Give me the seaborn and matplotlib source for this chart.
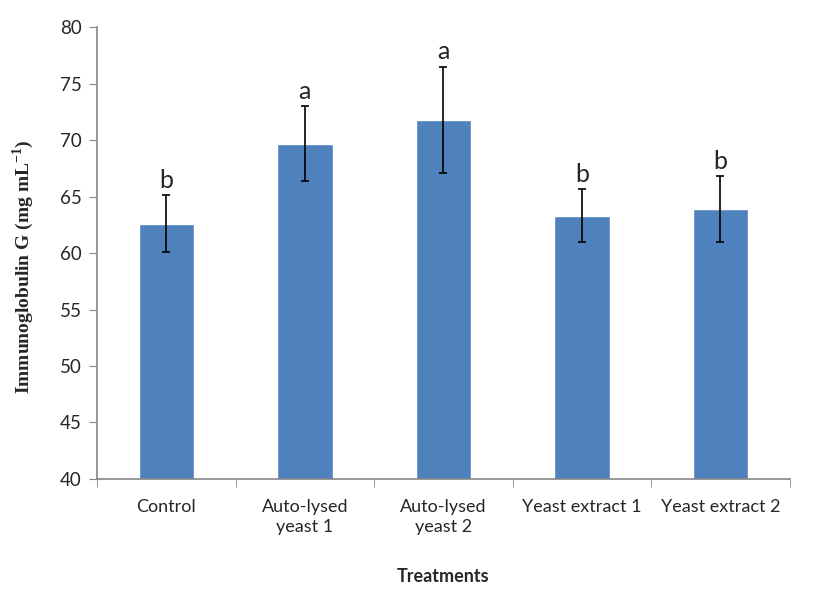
import matplotlib
matplotlib.use("Agg")
import matplotlib.pyplot as plt
import pandas as pd
import seaborn as sns
import numpy as np

# Values
treatments = ["Control", "Auto-lysed\nyeast 1", "Auto-lysed\nyeast 2", "Yeast extract 1", "Yeast extract 2"]
igg = [62.6, 69.7, 71.8, 63.3, 63.9]
igg_err = [2.5, 3.3, 4.7, 2.35, 2.9]
letters = ["b", "a", "a", "b", "b"]

df = pd.DataFrame({"Treatment": treatments, "IgG": igg, "err": igg_err})

sns.set_style("white")
plt.rcParams["font.family"] = ["Lato", "DejaVu Sans"]

fig = plt.figure(figsize=(8.15, 5.92), dpi=100)
ax = fig.add_axes([0.119, 0.191, 0.850, 0.763])

sns.barplot(data=df, x="Treatment", y="IgG", color="#4F81BD", saturation=1,
            width=0.4, errorbar=None, ax=ax)
ax.errorbar(np.arange(len(treatments)), df["IgG"], yerr=df["err"], fmt="none",
            ecolor="black", elinewidth=1.2, capsize=3, capthick=1.2)

for i, (v, e, lab) in enumerate(zip(igg, igg_err, letters)):
    ax.text(i, v + e + 0.3, lab, ha="center", va="bottom", fontsize=18)

ax.set_ylim(40, 80)
ax.set_xlim(-0.5, len(treatments) - 0.5)
ax.set_yticks(np.arange(40, 81, 5))

ax.set_xlabel("Treatments", fontsize=13, fontweight="bold", labelpad=24)
ax.set_ylabel("Immunoglobulin G (mg mL$^{\\mathregular{-1}}$)", fontsize=14,
              fontweight="bold", family="Liberation Serif")
ax.yaxis.set_label_coords(-0.088, 0.47)

for s in ["top", "right"]:
    ax.spines[s].set_visible(False)
for s in ["left", "bottom"]:
    ax.spines[s].set_color("#868686")
    ax.spines[s].set_linewidth(1.2)

ax.tick_params(axis="y", left=True, direction="out", length=6, color="#868686",
               labelsize=13.5, pad=5)
ax.tick_params(axis="x", bottom=False, labelsize=13, pad=11)
for t in ax.get_xticklabels():
    t.set_linespacing(1.3)
ax.set_xticks(np.arange(-0.5, len(treatments), 1.0), minor=True)
ax.tick_params(axis="x", which="minor", bottom=True, direction="out", length=6,
               color="#868686")

fig.savefig("out.png", dpi=100)
plt.close(fig)
